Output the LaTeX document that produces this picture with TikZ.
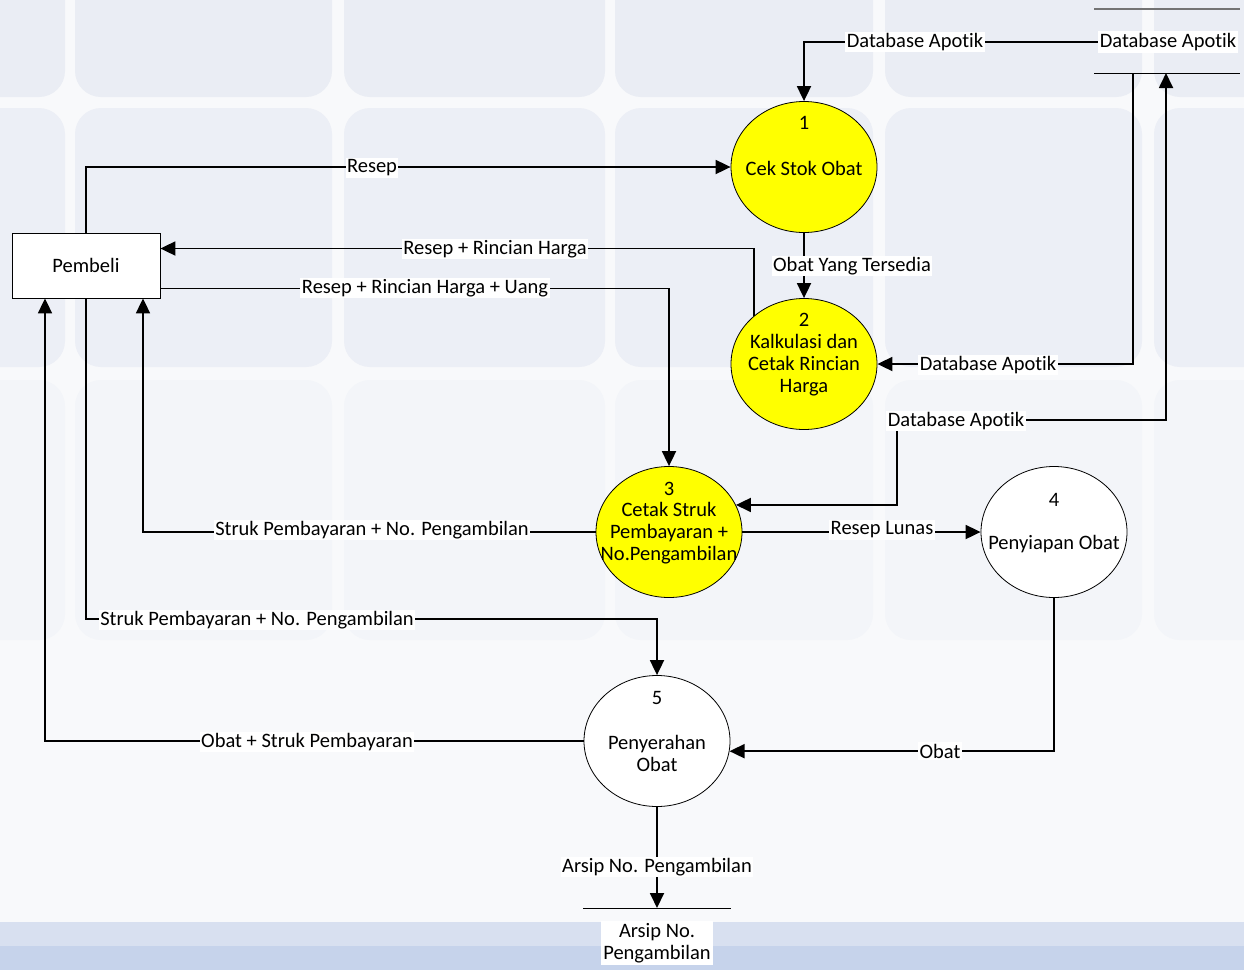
\documentclass[tikz,border=0pt]{standalone}
\usepackage{fontspec}
\setmainfont{Carlito}[Ligatures={NoCommon,NoContextual},Contextuals={NoAlternate}]
\usetikzlibrary{arrows.meta,shapes.geometric}
\definecolor{tileA}{HTML}{EAEDF4}
\definecolor{tileB}{HTML}{ECEFF6}
\definecolor{tileC}{HTML}{F3F5F9}
\definecolor{bgc}{HTML}{F8F9FB}
\definecolor{bandA}{HTML}{D8E0F0}
\definecolor{bandB}{HTML}{C6D3EB}
\definecolor{procyellow}{HTML}{FFFF00}
\begin{document}
\begin{tikzpicture}[x=1pt,y=-1pt,
  every node/.style={font=\fontsize{20.5}{22}\selectfont, text=black},
  proc/.style={draw=black, line width=0.8pt, ellipse, minimum width=146pt, minimum height=131pt, inner sep=0pt},
  txt/.style={inner sep=0pt, align=center},
  lbl/.style={fill=white, inner sep=1.5pt},
  flow/.style={draw=black, line width=1.8pt, -{Triangle[length=15pt,width=14pt]}},
  dflow/.style={draw=black, line width=1.8pt, {Triangle[length=15pt,width=14pt]}-{Triangle[length=15pt,width=14pt]}},
  tile/.style={rounded corners=26pt}]
\useasboundingbox (0,0) rectangle (1244,970);
% background
\fill[bgc] (0,0) rectangle (1244,970);
\foreach \xa/\xb in {-40/65,75/332,344/605,615/873,885/1142,1154/1290}{
  \fill[tileA,tile] (\xa,-40) rectangle (\xb,97);
  \fill[tileB,tile] (\xa,108) rectangle (\xb,367);
  \fill[tileC,tile] (\xa,380) rectangle (\xb,640);
}
\fill[bandA] (0,922) rectangle (1244,946);
\fill[bandB] (0,946) rectangle (1244,970);

% external entity
\node[draw=black, fill=white, line width=0.8pt, minimum width=148pt, minimum height=65pt, inner sep=0pt] (pem) at (86,265.5) {Pembeli};

% processes
\node[proc, fill=procyellow] (p1) at (804,167) {};
\node[txt] (p1n) at (804,123) {1};
\node[txt] (p1t) at (804,168) {Cek Stok Obat};

\node[proc, fill=procyellow] (p2) at (804,364) {};
\node[txt] (p2n) at (804,320) {2};
\node[txt] (p2t) at (804,365) {Kalkulasi dan\\Cetak Rincian\\Harga};

\node[proc, fill=procyellow] (p3) at (669,532) {};
\node[txt] (p3n) at (669,489) {3};
\node[txt] (p3t) at (669,533) {Cetak Struk\\Pembayaran +\\No.Pengambilan};

\node[proc, fill=white] (p4) at (1054,532) {};
\node[txt] (p4n) at (1054,500) {4};
\node[txt] (p4t) at (1054,544) {Penyiapan Obat};

\node[proc, fill=white] (p5) at (657,741) {};
\node[txt] (p5n) at (657,698) {5};
\node[txt] (p5t) at (657,753) {Penyerahan\\Obat};

% data stores
\draw[line width=1.5pt, draw=black!55] (1094,9) -- (1240,9);
\draw[line width=1pt, draw=black] (1094,73) -- (1240,73);
\node[lbl, inner sep=2pt] (db) at (1168,42) {Database Apotik};
\coordinate (dbb1) at (1133,73);
\coordinate (dbb2) at (1166,73);

\draw[line width=1pt, draw=black] (583,908) -- (731,908);
\coordinate (ar) at (657,908);
\node[lbl, txt, fill=white, inner sep=2pt] (art) at (657,943) {Arsip No.\\Pengambilan};

% helper coordinates
\coordinate (c7) at (897,420);
\coordinate (c10) at (400,619);

% flows
\draw[flow] (db.west) -| (p1.north);
\draw[flow] (pem.north) |- (p1.west);
\draw[flow] (p2.136) |- ([yshift=17pt]pem.east);
\draw[flow] ([yshift=-23pt]pem.east) -| (p3.north);
\draw[flow] (p1.south) -- (p2.north);
\draw[flow] (dbb1) |- (p2.east);
\draw[dflow] (dbb2) |- (c7) |- (p3.22);
\draw[flow] (p3.west) -| ([xshift=57pt]pem.south);
\draw[flow] (p3.east) -- (p4.west);
\draw[flow] (pem.south) |- (c10) -| (p5.north);
\draw[flow] (p5.west) -| ([xshift=-41pt]pem.south);
\draw[flow] (p4.south) |- (p5.-8);
\draw[flow] (p5.south) -- (ar);

% labels
\node[lbl] (l1) at (915,42) {Database Apotik};
\node[lbl] (l2) at (372,168) {Resep};
\node[lbl] (l3) at (495,249) {Resep + Rincian Harga};
\node[lbl] (l4) at (425,288) {Resep + Rincian Harga + Uang};
\node[lbl] (l5) at (852,266) {Obat Yang Tersedia};
\node[lbl] (l6) at (988,365) {Database Apotik};
\node[lbl] (l7) at (956,421) {Database Apotik};
\node[lbl] (l8) at (372,530) {Struk Pembayaran + No. Pengambilan};
\node[lbl] (l9) at (882,530) {Resep Lunas};
\node[lbl] (l10) at (257,620) {Struk Pembayaran + No. Pengambilan};
\node[lbl] (l11) at (307,742) {Obat + Struk Pembayaran};
\node[lbl] (l12) at (940,751) {Obat};
\node[lbl] (l13) at (657,867) {Arsip No. Pengambilan};
\end{tikzpicture}
\end{document}
